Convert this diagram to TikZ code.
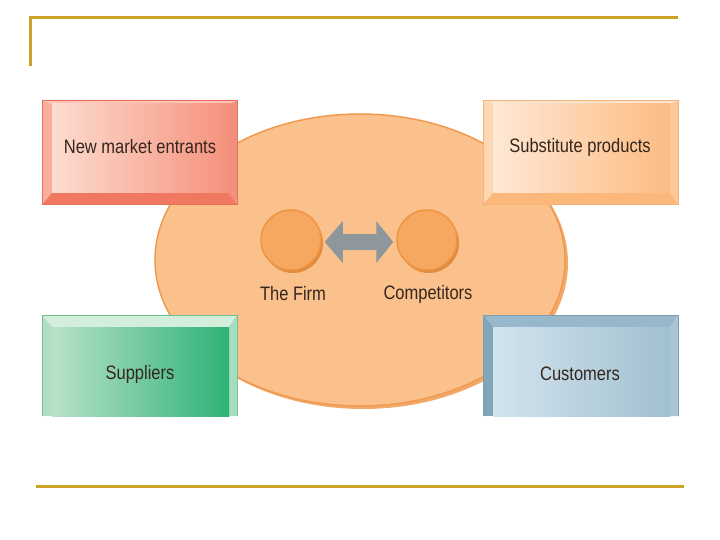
\documentclass[tikz,border=0pt]{standalone}
\usepackage{fontspec}
\usepackage{graphicx}
\setmainfont{Liberation Sans}
\usetikzlibrary{calc}
\definecolor{gold}{HTML}{C9A227}
\definecolor{ellfill}{HTML}{FAC18C}
\definecolor{ellline}{HTML}{F09A50}
\definecolor{ellshadow}{HTML}{F2A868}
\definecolor{circfill}{HTML}{F6A860}
\definecolor{circline}{HTML}{F09440}
\definecolor{circshadow}{HTML}{E08A40}
\definecolor{arrowgray}{HTML}{8E979C}
\definecolor{txt}{HTML}{35261E}
% new market entrants
\definecolor{nmeIL}{HTML}{FDDCD0}\definecolor{nmeIR}{HTML}{F5927C}
\definecolor{nmeT}{HTML}{FBC5B8}\definecolor{nmeL}{HTML}{F8AE9E}
\definecolor{nmeR}{HTML}{F29080}\definecolor{nmeB}{HTML}{F17860}
\definecolor{nmeO}{HTML}{E8705A}
% substitute
\definecolor{subIL}{HTML}{FEE8D4}\definecolor{subIR}{HTML}{FCBC84}
\definecolor{subT}{HTML}{FEE4CC}\definecolor{subL}{HTML}{FDD6B2}
\definecolor{subR}{HTML}{FCC898}\definecolor{subB}{HTML}{FBB87A}
\definecolor{subO}{HTML}{F5B27A}
% suppliers
\definecolor{supIL}{HTML}{B8E2C8}\definecolor{supIR}{HTML}{2EB276}
\definecolor{supT}{HTML}{D4EEDC}\definecolor{supL}{HTML}{B4DEC4}
\definecolor{supR}{HTML}{A8DCC0}\definecolor{supO}{HTML}{70C090}
% customers
\definecolor{cusIL}{HTML}{D2E4EE}\definecolor{cusIR}{HTML}{A2C0D0}
\definecolor{cusT}{HTML}{96B8CA}\definecolor{cusL}{HTML}{80A6BA}
\definecolor{cusR}{HTML}{A8C6D4}\definecolor{cusO}{HTML}{7C9EB0}
\newcommand\tallText[1]{\scalebox{1}[1.18]{#1}}
\tikzset{
  lbl/.style={font=\fontsize{16.5}{20}\selectfont, text=txt, inner sep=0pt},
  firmcirc/.style={circle, minimum size=60pt, inner sep=0pt, fill=circfill, draw=circline, line width=1.5pt},
  goldline/.style={gold, line width=3pt},
}
\begin{document}
\begin{tikzpicture}[x=1pt,y=-1pt]
\useasboundingbox (0,0) rectangle (720,540);
% frame lines
\draw[goldline] (30,66) -- (30,18) -- (678,18);
\draw[goldline] (36,486) -- (684,486);
% ellipse
\fill[ellshadow] (363,263) ellipse [x radius=205pt, y radius=146pt];
\draw[fill=ellfill, draw=ellline, line width=1.5pt] (360,260) ellipse [x radius=205pt, y radius=146pt];

% New market entrants box
\fill[nmeL] (42,101) rectangle (237,205);
\fill[nmeT] (42,101) -- (237,101) -- (229,104) -- (52,104) -- cycle;
\fill[nmeR] (237,101) -- (237,205) -- (229,193) -- (229,104) -- cycle;
\fill[nmeB] (42,205) -- (237,205) -- (229,193) -- (52,193) -- cycle;
\shade[left color=nmeIL, right color=nmeIR] (52,104) rectangle (229,193);
\draw[nmeO, line width=1pt] (42,101) rectangle (237,205);
\node[lbl] (nme) at (140,147) {\tallText{New market entrants}};

% Substitute products box
\fill[subL] (483,101) rectangle (678,205);
\fill[subT] (483,101) -- (678,101) -- (670,104) -- (493,104) -- cycle;
\fill[subR] (678,101) -- (678,205) -- (670,193) -- (670,104) -- cycle;
\fill[subB] (483,205) -- (678,205) -- (670,193) -- (493,193) -- cycle;
\shade[left color=subIL, right color=subIR] (493,104) rectangle (670,193);
\draw[subO, line width=1pt] (483,101) rectangle (678,205);
\node[lbl] (sub) at (580,147) {\tallText{Substitute products}};

% Suppliers box
\fill[supL] (42,315) rectangle (237,416);
\fill[supT] (42,315) -- (237,315) -- (229,327) -- (52,327) -- cycle;
\fill[supR] (237,315) -- (237,416) -- (229,416) -- (229,327) -- cycle;
\shade[left color=supIL, right color=supIR] (52,327) rectangle (229,416);
\draw[supO, line width=1pt] (42,416) -- (42,315) -- (237,315) -- (237,416);
\node[lbl] (sup) at (140,374) {\tallText{Suppliers}};

% Customers box
\fill[cusL] (483,315) rectangle (678,416);
\fill[cusT] (483,315) -- (678,315) -- (670,327) -- (493,327) -- cycle;
\fill[cusR] (678,315) -- (678,416) -- (670,416) -- (670,327) -- cycle;
\shade[left color=cusIL, right color=cusIR] (493,327) rectangle (670,416);
\draw[cusO, line width=1pt] (483,416) -- (483,315) -- (678,315) -- (678,416);
\node[lbl] (cus) at (580,374) {\tallText{Customers}};

% circles
\fill[circshadow] (293,243) circle (30pt);
\fill[circshadow] (429,243) circle (30pt);
\node[firmcirc] (firm) at (291,240) {};
\node[firmcirc] (comp) at (427,240) {};
\node[lbl] (firmlbl) at (293,294) {\tallText{The Firm}};
\node[lbl] (complbl) at (428,294) {\tallText{Competitors}};

% double arrow
\coordinate (aL) at ($(firm.east)+(3,2)$);
\coordinate (aR) at ($(comp.west)+(-3,2)$);
\fill[arrowgray] (aL) -- ($(aL)+(18,-21)$) -- ($(aL)+(18,-8)$) -- ($(aR)+(-17,-8)$)
  -- ($(aR)+(-17,-21)$) -- (aR) -- ($(aR)+(-17,21)$) -- ($(aR)+(-17,8)$)
  -- ($(aL)+(18,8)$) -- ($(aL)+(18,21)$) -- cycle;
\end{tikzpicture}
\end{document}
